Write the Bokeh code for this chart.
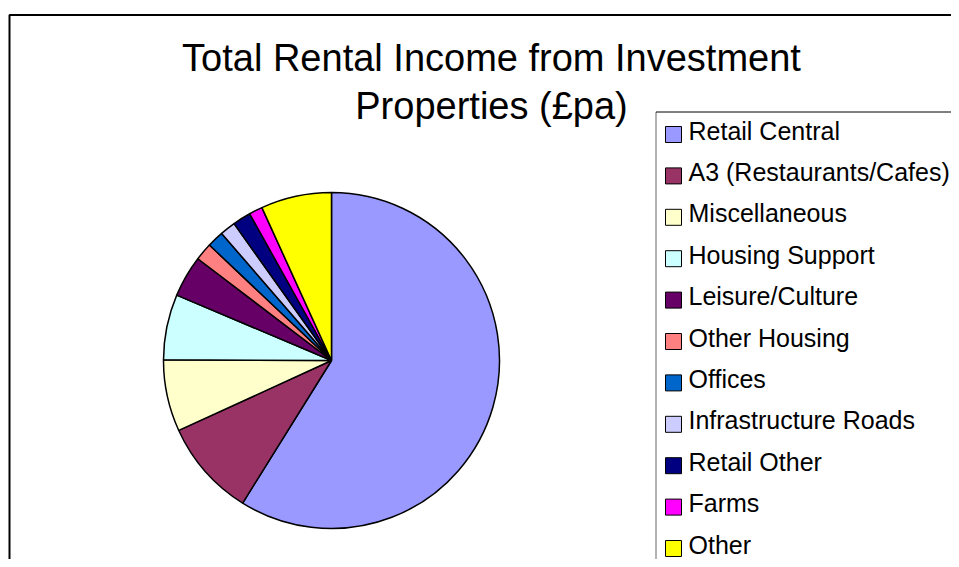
from bokeh.plotting import figure
from bokeh.models import Range1d, ColumnDataSource
from bokeh.core.properties import value
from bokeh.embed import file_html
from bokeh.resources import INLINE
import math

# ---- data ----
categories = ["Retail Central", "A3 (Restaurants/Cafes)", "Miscellaneous", "Housing Support",
              "Leisure/Culture", "Other Housing", "Offices", "Infrastructure Roads",
              "Retail Other", "Farms", "Other"]
shares = [58.9, 9.3, 6.9, 6.3, 4.0, 1.7, 1.6, 1.5, 1.75, 1.3, 6.8]
colors = ["#9999FF", "#993366", "#FFFFCC", "#CCFFFF", "#660066", "#FF8080",
          "#0066CC", "#CCCCFF", "#000080", "#FF00FF", "#FFFF00"]
title_lines = ["Total Rental Income from Investment", "Properties (\u00a3pa)"]

W, H = 951, 559
FONT = "Liberation Sans"

def fy(py):
    # pixel y (from top) -> data y
    return H - py

def fx(px):
    return px

p = figure(width=W, height=H, output_backend="svg", toolbar_location=None,
           x_range=Range1d(0, W), y_range=Range1d(0, H), min_border=0)
p.axis.visible = False
p.grid.visible = False
p.outline_line_color = None
p.background_fill_color = "white"
p.border_fill_color = "white"

# outer chart border (extends beyond the right/bottom edges)
p.line(x=[fx(9), fx(9), fx(1000)], y=[fy(700), fy(14.5), fy(14.5)],
       line_color="black", line_width=2)

# title
for i, t in enumerate(title_lines):
    p.text(x=[fx(491)], y=[fy(57.5 + i * 47.5)], text=[t], text_font=value(FONT),
           text_font_size="38px", text_align="center", text_baseline="alphabetic",
           text_color="black")

# pie
total = sum(shares)
starts, ends = [], []
cum = 0.0
for s in shares:
    a0 = math.pi / 2 - 2 * math.pi * cum / total
    cum += s
    a1 = math.pi / 2 - 2 * math.pi * cum / total
    starts.append(a0)
    ends.append(a1)
src = ColumnDataSource(dict(start=starts, end=ends, color=colors, cat=categories))
p.wedge(x=fx(331), y=fy(360), radius=168, start_angle="start", end_angle="end",
        direction="clock", fill_color="color", line_color="black", line_width=1.5,
        source=src)

# legend box
p.line(x=[fx(655.5), fx(655.5)], y=[fy(700), fy(111.5)],
       line_color="#666666", line_width=1)
p.line(x=[fx(655.5), fx(1000)], y=[fy(111.5), fy(111.5)], line_color="black", line_width=1)

step = 41.4
lx = [fx(673)] * len(categories)
ly = [fy(134 + step * i) for i in range(len(categories))]
p.rect(x=lx, y=ly, width=16, height=16, fill_color=colors, line_color="black", line_width=1)
tx = [fx(688)] * len(categories)
ty = [fy(130 + step * i) for i in range(len(categories))]
p.text(x=tx, y=ty, text=categories, text_font=value(FONT), text_font_size="25px",
       text_align="left", text_baseline="alphabetic", text_color="black")

open("out.html", "w").write(file_html(p, INLINE))
